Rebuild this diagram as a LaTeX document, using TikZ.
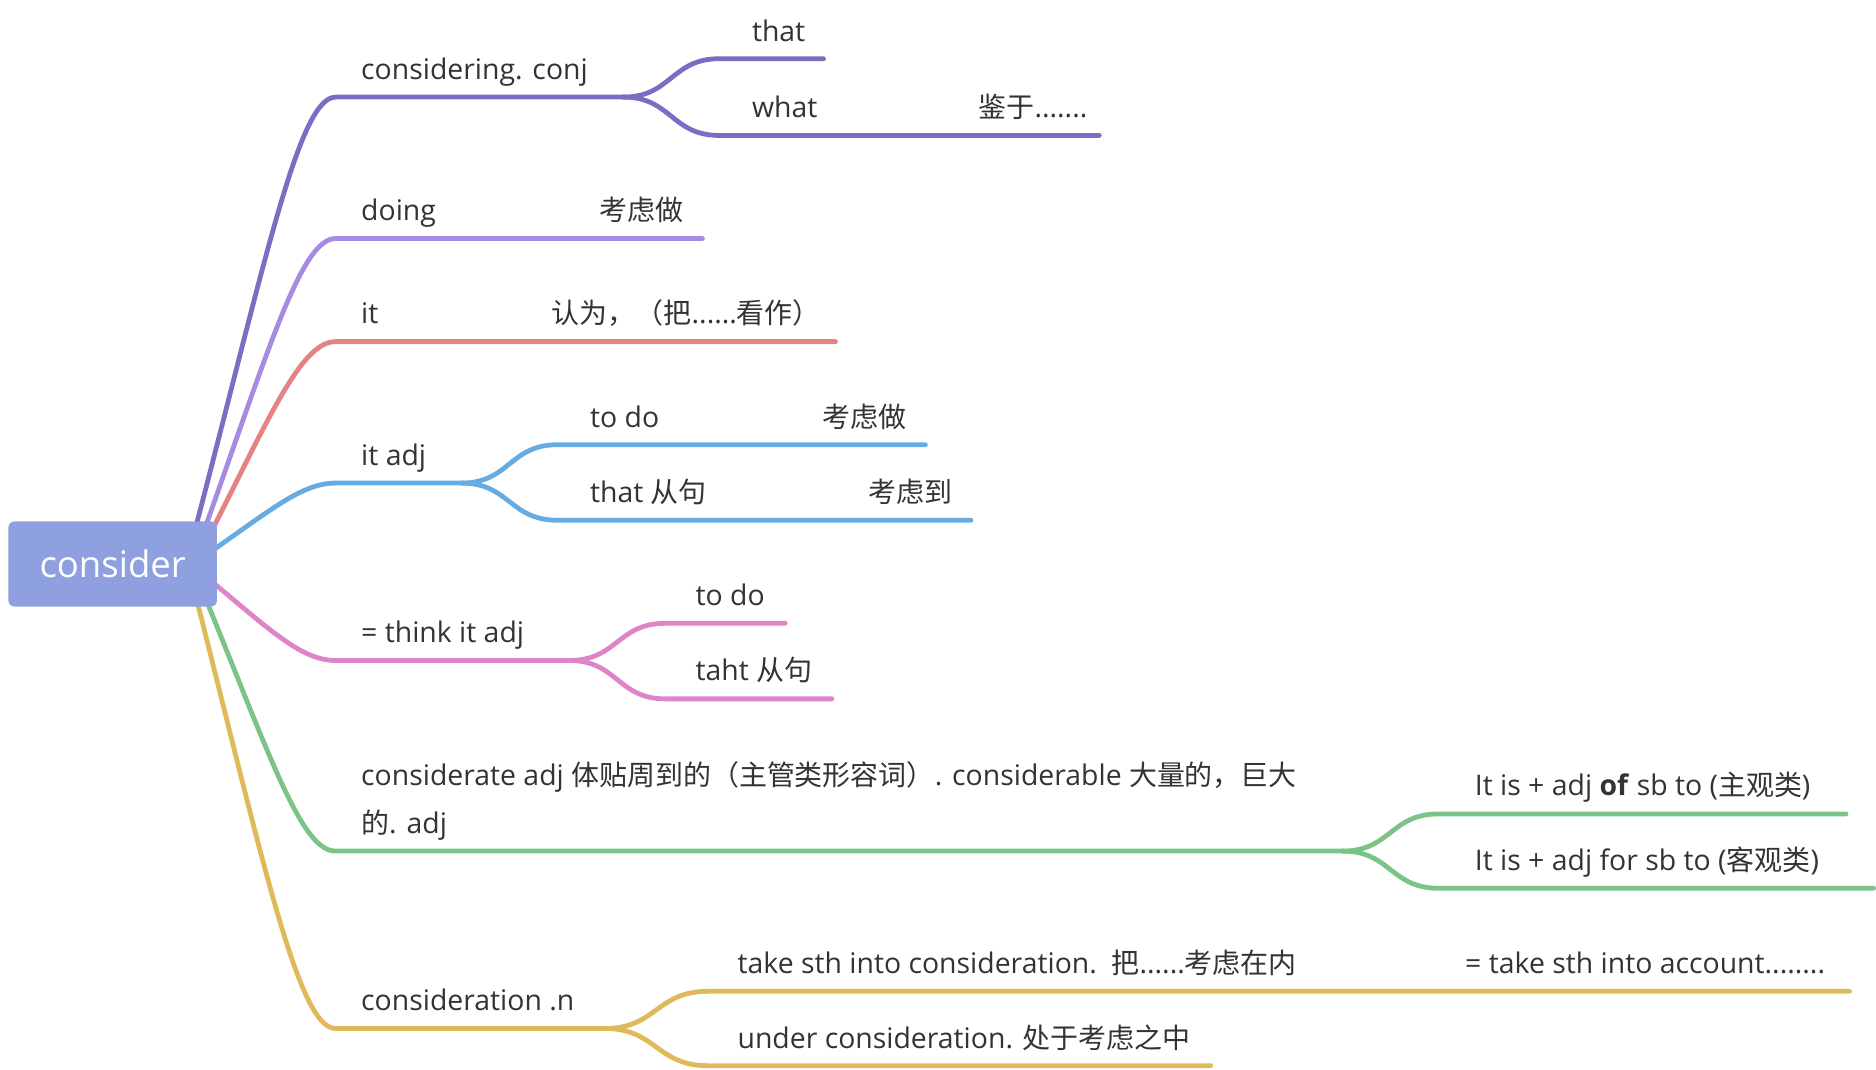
\documentclass[tikz,border=0pt]{standalone}
\usepackage{fontspec}
\setmainfont{Open Sans}[Scale=1.015]
\newfontfamily\zh{Noto Sans CJK SC}
\usetikzlibrary{calc,backgrounds}

\definecolor{rootblue}{HTML}{8FA0E0}
\definecolor{cpurple}{HTML}{7E6BC2}
\definecolor{clilac}{HTML}{A58CE0}
\definecolor{cred}{HTML}{E48383}
\definecolor{cblue}{HTML}{66ACE2}
\definecolor{cpink}{HTML}{DE84C8}
\definecolor{cgreen}{HTML}{7BC387}
\definecolor{cyellow}{HTML}{E0B95A}
\definecolor{textgray}{HTML}{333333}

% text that reaches to a fixed width, then the rest follows
\newcommand{\tabto}[2]{\makebox[#1][l]{#2}}

\tikzset{
  branch/.style={line width=2.4pt, line cap=round},
  lbl/.style={anchor=base west, inner sep=0pt, text=textgray,
    font=\fontsize{14}{17}\selectfont},
  rootbox/.style={fill=rootblue, rounded corners=3pt, text=white,
    minimum width=104.4pt, minimum height=42.6pt, inner sep=0pt,
    font=\fontsize{18}{22}\selectfont}
}

\begin{document}
\begin{tikzpicture}[x=0.6pt,y=-0.6pt]
    \useasboundingbox (0,0) rectangle (1565,892.6);

    % Root
    \node[rootbox] (root) at (94,470.5) {consider};

    % Branch points
    \coordinate (conj)   at (280,81);   \coordinate (conj-f)  at (520,81);
    \coordinate (that)   at (600,49);   \coordinate (that-e)  at (687,49);
    \coordinate (what)   at (600,113);  \coordinate (what-e)  at (917,113);
    \coordinate (doing)  at (280,199);  \coordinate (doing-e) at (586,199);
    \coordinate (it)     at (280,285);  \coordinate (it-e)    at (697,285);
    \coordinate (itadj)  at (280,403);  \coordinate (itadj-f) at (385,403);
    \coordinate (todo)   at (465,371);  \coordinate (todo-e)  at (772,371);
    \coordinate (thatc)  at (465,434);  \coordinate (thatc-e) at (810,434);
    \coordinate (think)  at (280,551);  \coordinate (think-f) at (475,551);
    \coordinate (todob)  at (555,520);  \coordinate (todob-e) at (655,520);
    \coordinate (taht)   at (555,583);  \coordinate (taht-e)  at (694,583);
    \coordinate (adj)    at (280,710);  \coordinate (adj-f)   at (1120,710);
    \coordinate (of)     at (1200,679); \coordinate (of-e)    at (1540,679);
    \coordinate (for)    at (1200,741); \coordinate (for-e)   at (1563,741);
    \coordinate (noun)   at (280,858);  \coordinate (noun-f)  at (505,858);
    \coordinate (take)   at (590,827);  \coordinate (take-e)  at (1543,827);
    \coordinate (under)  at (590,889);  \coordinate (under-e) at (1010,889);

    \begin{pgfonlayer}{background}
    % Main branches
    \draw[branch,cpurple] ($(root.north east)+(-18,5)$) .. controls +(60,-230) and +(-30,0) .. (conj) -- (conj-f);
    \draw[branch,clilac] ($(root.north east)+(-10,5)$) .. controls +(55,-155) and +(-28,0) .. (doing) -- (doing-e);
    \draw[branch,cred] ($(root.north east)+(-3,5)$) .. controls +(50,-100) and +(-27,0) .. (it) -- (it-e);
    \draw[branch,cblue] ($(root.east)+(-3,-12)$) .. controls +(50,-35) and +(-27,0) .. (itadj) -- (itadj-f);
    \draw[branch,cpink] ($(root.east)+(-3,16)$) .. controls +(50,42) and +(-27,0) .. (think) -- (think-f);
    \draw[branch,cgreen] ($(root.south east)+(-9,-5)$) .. controls +(55,135) and +(-28,0) .. (adj) -- (adj-f);
    \draw[branch,cyellow] ($(root.south east)+(-17,-5)$) .. controls +(58,230) and +(-30,0) .. (noun) -- (noun-f);

    % Sub branches
    \draw[branch,cpurple] (conj-f) .. controls +(40,0) and +(-40,0) .. (that) -- (that-e);
    \draw[branch,cpurple] (conj-f) .. controls +(40,0) and +(-40,0) .. (what) -- (what-e);
    \draw[branch,cblue] (itadj-f) .. controls +(40,0) and +(-40,0) .. (todo) -- (todo-e);
    \draw[branch,cblue] (itadj-f) .. controls +(40,0) and +(-40,0) .. (thatc) -- (thatc-e);
    \draw[branch,cpink] (think-f) .. controls +(40,0) and +(-40,0) .. (todob) -- (todob-e);
    \draw[branch,cpink] (think-f) .. controls +(40,0) and +(-40,0) .. (taht) -- (taht-e);
    \draw[branch,cgreen] (adj-f) .. controls +(40,0) and +(-40,0) .. (of) -- (of-e);
    \draw[branch,cgreen] (adj-f) .. controls +(40,0) and +(-40,0) .. (for) -- (for-e);
    \draw[branch,cyellow] (noun-f) .. controls +(42,0) and +(-42,0) .. (take) -- (take-e);
    \draw[branch,cyellow] (noun-f) .. controls +(42,0) and +(-42,0) .. (under) -- (under-e);
    \end{pgfonlayer}

    % Labels
    \node[lbl] (conj-t)  at (301,66)  {considering. conj};
    \node[lbl] (that-t)  at (627,35)  {that};
    \node[lbl] (what-t)  at (627,98)  {\tabto{113.4pt}{what}{\zh 鉴于}.......};
    \node[lbl] (doing-t) at (301,184) {\tabto{119.4pt}{doing}{\zh 考虑做}};
    \node[lbl] (it-t)    at (301,270) {\tabto{95.4pt}{it}{\zh 认为，（把}......{\zh 看作）}};
    \node[lbl] (itadj-t) at (301,388) {it adj};
    \node[lbl] (todo-t)  at (492,357) {\tabto{116.4pt}{to do}{\zh 考虑做}};
    \node[lbl] (thatc-t) at (492,419) {\tabto{139.2pt}{that {\zh 从句}}{\zh 考虑到}};
    \node[lbl] (think-t) at (301,536) {= think it adj};
    \node[lbl] (todob-t) at (580,505) {to do};
    \node[lbl] (taht-t)  at (580,568) {taht {\zh 从句}};
    \node[lbl,align=left,font=\fontsize{14}{24}\selectfont] (adj-t) at (301,695)
      {considerate adj {\zh 体贴周到的（主管类形容词）}. considerable {\zh 大量的，巨大}\\{\zh 的}. adj};
    \node[lbl] (of-t)    at (1230,664) {It is + adj \textbf{of} sb to ({\zh 主观类})};
    \node[lbl] (for-t)   at (1230,726) {It is + adj for sb to ({\zh 客观类})};
    \node[lbl] (noun-t)  at (301,843) {consideration .n};
    \node[lbl] (take-t)  at (615,812) {\tabto{364.2pt}{take sth into consideration.\ \ {\zh 把}......{\zh 考虑在内}}= take sth into account........};
    \node[lbl] (under-t) at (615,875) {under consideration. {\zh 处于考虑之中}};
\end{tikzpicture}
\end{document}
